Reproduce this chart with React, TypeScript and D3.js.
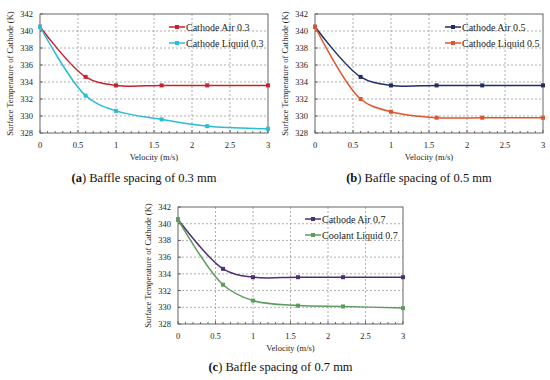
import React from "react";
import * as d3 from "d3";

const velocity = [0, 0.6, 1, 1.6, 2.2, 3];
const air03 = [340.5, 334.6, 333.6, 333.6, 333.6, 333.6];
const liquid03 = [340.5, 332.4, 330.6, 329.6, 328.8, 328.5];
const air05 = [340.5, 334.6, 333.6, 333.6, 333.6, 333.6];
const liquid05 = [340.5, 332.0, 330.5, 329.8, 329.8, 329.8];
const air07 = [340.5, 334.6, 333.6, 333.6, 333.6, 333.6];
const coolant07 = [340.5, 332.7, 330.8, 330.2, 330.1, 329.9];

const xTicks = [0, 0.5, 1, 1.5, 2, 2.5, 3];
const yTicks = [328, 330, 332, 334, 336, 338, 340, 342];

const names = {
  a: ["Cathode Air 0.3", "Cathode Liquid 0.3"],
  b: ["Cathode Air 0.5", "Cathode Liquid 0.5"],
  c: ["Cathode Air 0.7", "Coolant Liquid 0.7"],
};
const captions = {
  a: ["(a)", " Baffle spacing of 0.3 mm"],
  b: ["(b)", " Baffle spacing of 0.5 mm"],
  c: ["(c)", " Baffle spacing of 0.7 mm"],
};

const FONT = "'Liberation Serif', 'Times New Roman', serif";

type PanelProps = {
  left: number;
  right: number;
  top: number;
  bottom: number;
  series: number[][];
  colors: string[];
  labels: string[];
  caption: string[];
  legendX: number;
  legendY: number;
  captionY: number;
};

function Panel(p: PanelProps) {
  const x = d3.scaleLinear().domain([0, 3]).range([p.left, p.right]);
  const y = d3.scaleLinear().domain([328, 342]).range([p.bottom, p.top]);
  const line = d3
    .line<[number, number]>()
    .x((d) => x(d[0]))
    .y((d) => y(d[1]))
    .curve(d3.curveCatmullRom.alpha(0.5));
  const minor = d3.range(0, 3.0001, 0.1);
  const cx = (p.left + p.right) / 2;
  return (
    <g fontFamily={FONT}>
      {/* grid */}
      {xTicks.slice(1, -1).map((t) => (
        <line key={"gx" + t} x1={x(t)} x2={x(t)} y1={p.top} y2={p.bottom} stroke="#9a9a9a" strokeWidth={0.8} strokeDasharray="2,2" />
      ))}
      {yTicks.slice(1, -1).map((t) => (
        <line key={"gy" + t} x1={p.left} x2={p.right} y1={y(t)} y2={y(t)} stroke="#9a9a9a" strokeWidth={0.8} strokeDasharray="2,2" />
      ))}
      {/* minor ticks */}
      {minor.map((t, i) => (
        <line key={"mx" + i} x1={x(t)} x2={x(t)} y1={p.bottom} y2={p.bottom - (i % 5 === 0 ? 3 : 2)} stroke="#333" strokeWidth={0.7} />
      ))}
      {yTicks.map((t) => (
        <line key={"ty" + t} x1={p.left} x2={p.left + 3} y1={y(t)} y2={y(t)} stroke="#333" strokeWidth={0.7} />
      ))}
      {/* frame */}
      <rect x={p.left} y={p.top} width={p.right - p.left} height={p.bottom - p.top} fill="none" stroke="#555" strokeWidth={0.9} />
      {/* tick labels */}
      {xTicks.map((t) => (
        <text key={"lx" + t} x={x(t)} y={p.bottom + 15} fontSize={8.5} textAnchor="middle" fill="#222">
          {String(t)}
        </text>
      ))}
      {yTicks.map((t) => (
        <text key={"ly" + t} x={p.left - 7} y={y(t) + 3} fontSize={8.5} textAnchor="end" fill="#222">
          {t}
        </text>
      ))}
      <text x={cx} y={p.bottom + 27} fontSize={8.5} textAnchor="middle" fill="#222">
        Velocity  (m/s)
      </text>
      <text
        transform={`translate(${p.left - 27},${(p.top + p.bottom) / 2}) rotate(-90)`}
        fontSize={8.5}
        textAnchor="middle"
        fill="#222"
      >
        Surface  Temperature  of  Cathode  (K)
      </text>
      {/* series */}
      {p.series.map((s, si) => {
        const pts = velocity.map((v, i) => [v, s[i]] as [number, number]);
        return (
          <g key={"s" + si}>
            <path d={line(pts) || ""} fill="none" stroke={p.colors[si]} strokeWidth={1.5} />
            {pts.map((d, i) => (
              <rect key={i} x={x(d[0]) - 2} y={y(d[1]) - 2} width={4} height={4} fill={p.colors[si]} />
            ))}
          </g>
        );
      })}
      {/* legend */}
      {p.labels.map((l, i) => (
        <g key={"lg" + i} transform={`translate(${p.legendX},${p.legendY + i * 16})`}>
          <line x1={0} x2={16} y1={0} y2={0} stroke={p.colors[i]} strokeWidth={1.5} />
          <rect x={6} y={-2} width={4} height={4} fill={p.colors[i]} />
          <text x={17} y={3.5} fontSize={10} fill="#222">
            {l}
          </text>
        </g>
      ))}
      {/* caption */}
      <text x={cx - 10} y={p.captionY} fontSize={12.5} textAnchor="middle" fill="#111">
        <tspan fontWeight="bold">{p.caption[0].slice(0, 1)}</tspan>
        <tspan fontWeight="bold">{p.caption[0].slice(1, 2)}</tspan>
        <tspan>{p.caption[0].slice(2)}</tspan>
        <tspan>{p.caption[1]}</tspan>
      </text>
    </g>
  );
}

export default function App() {
  return (
    <svg width={550} height={380} style={{ position: "absolute", left: 0, top: 0, background: "#fff" }}>
      <rect width={550} height={380} fill="#fff" />
      <Panel
        left={40}
        right={268}
        top={14}
        bottom={133}
        series={[air03, liquid03]}
        colors={["#c8202f", "#2bbcd6"]}
        labels={names.a}
        caption={captions.a}
        legendX={169}
        legendY={27}
        captionY={182}
      />
      <Panel
        left={315}
        right={543}
        top={14}
        bottom={133}
        series={[air05, liquid05]}
        colors={["#1f2d66", "#e0542c"]}
        labels={names.b}
        caption={captions.b}
        legendX={445}
        legendY={27}
        captionY={182}
      />
      <Panel
        left={178}
        right={403}
        top={207}
        bottom={324}
        series={[air07, coolant07]}
        colors={["#4e2f72", "#5c9c5c"]}
        labels={names.c}
        caption={captions.c}
        legendX={305}
        legendY={219}
        captionY={371}
      />
    </svg>
  );
}
